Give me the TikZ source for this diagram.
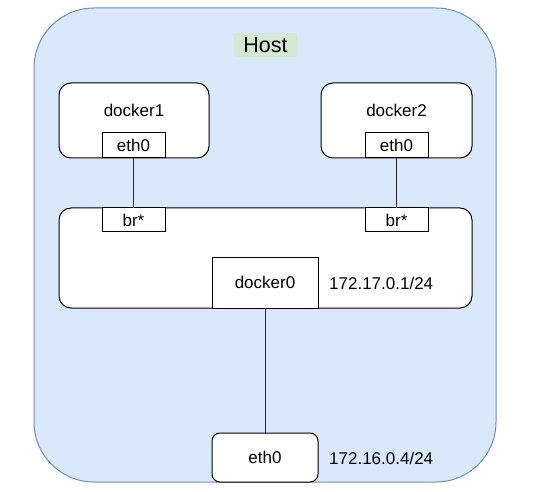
\documentclass[tikz,border=0pt]{standalone}
\usepackage{fontspec}
\setmainfont{Liberation Sans}
\definecolor{hostfill}{HTML}{DAE8FC}
\definecolor{hostdraw}{HTML}{6C8EBF}
\definecolor{labelfill}{HTML}{D5E8D4}
\begin{document}
\begin{tikzpicture}[x=1pt,y=-1pt,
  base/.style={draw=black,line width=1pt,fill=white,inner sep=0pt,outer sep=0pt,
    font=\fontsize{17}{20}\selectfont},
  box/.style={base,rounded corners=12pt},
  port/.style={base,minimum width=63pt,minimum height=25pt},
  txt/.style={inner sep=0pt,font=\fontsize{17}{20}\selectfont},
  wire/.style={draw=black!85,line width=1pt}]
\useasboundingbox (0,0) rectangle (536,492);
\node[draw=hostdraw,fill=hostfill,line width=1pt,rounded corners=60pt,minimum width=462pt,minimum height=474pt,inner sep=0pt] (host) at (265,245) {};
\node[fill=labelfill,rounded corners=3pt,minimum width=63pt,minimum height=24pt,inner sep=0pt,font=\fontsize{21.5}{24}\selectfont] (hostlabel) at (265.5,45) {Host};
% containers
\node[box,minimum width=150pt,minimum height=75pt] (docker1) at (134,120.5) {};
\node[txt] (d1label) at (134,110) {docker1};
\node[port] (d1eth) at (133.5,145.5) {eth0};
\node[box,minimum width=151pt,minimum height=75pt] (docker2) at (396.5,120.5) {};
\node[txt] (d2label) at (396.5,110) {docker2};
\node[port] (d2eth) at (396.5,145.5) {eth0};
% bridge
\node[box,minimum width=413pt,minimum height=100pt] (bridge) at (265.5,258) {};
\node[port,minimum height=24pt] (br1) at (133.5,220) {br*};
\node[port,minimum height=24pt] (br2) at (396.5,220) {br*};
\node[base,minimum width=106pt,minimum height=51pt] (docker0) at (265,282.5) {docker0};
\node[txt,anchor=west] (ip1) at (329,283) {172.17.0.1/24};
% host eth0
\node[base,rounded corners=8pt,minimum width=106pt,minimum height=49pt] (eth0) at (265,457.5) {eth0};
\node[txt,anchor=west] (ip2) at (329,458) {172.16.0.4/24};
% wires
\draw[wire] (d1eth.south) -- (br1.north);
\draw[wire] (d2eth.south) -- (br2.north);
\draw[wire] (docker0.south) -- (eth0.north);
\end{tikzpicture}
\end{document}
